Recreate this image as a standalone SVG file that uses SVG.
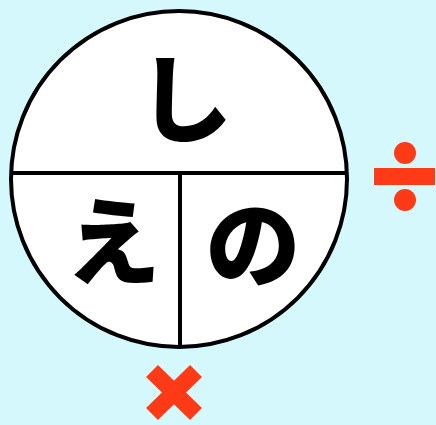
<svg xmlns="http://www.w3.org/2000/svg" width="436" height="425" viewBox="0 0 436 425">
  <style>
    .ln { stroke: #000; stroke-width: 4; fill: none; }
    .kana { font-family: "Noto Sans CJK JP", "Noto Sans", sans-serif; font-weight: 900; font-size: 95px; fill: #000; text-anchor: middle; }
    .op { fill: #ff3a17; }
  </style>
  <rect x="0" y="0" width="436" height="425" fill="#d5f8fc"/>
  <g id="circle">
    <circle cx="179" cy="179" r="168" fill="#fff" stroke="#000" stroke-width="4"/>
  </g>
  <g id="connectors">
    <line class="ln" x1="11" y1="173" x2="347" y2="173"/>
    <line class="ln" x1="180" y1="173" x2="180" y2="347"/>
  </g>
  <g id="node-shi"><text class="kana" x="185" y="135">し</text></g>
  <g id="node-e"><text class="kana" x="113" y="278">え</text></g>
  <g id="node-no"><text class="kana" x="253" y="280">の</text></g>
  <g id="divide">
    <circle class="op" cx="405" cy="153" r="11"/>
    <rect class="op" x="374" y="168" width="61" height="17"/>
    <circle class="op" cx="405" cy="200" r="11"/>
  </g>
  <g id="times">
    <line x1="152" y1="371" x2="196" y2="414" stroke="#ff3a17" stroke-width="17"/>
    <line x1="196" y1="371" x2="152" y2="414" stroke="#ff3a17" stroke-width="17"/>
  </g>
</svg>
